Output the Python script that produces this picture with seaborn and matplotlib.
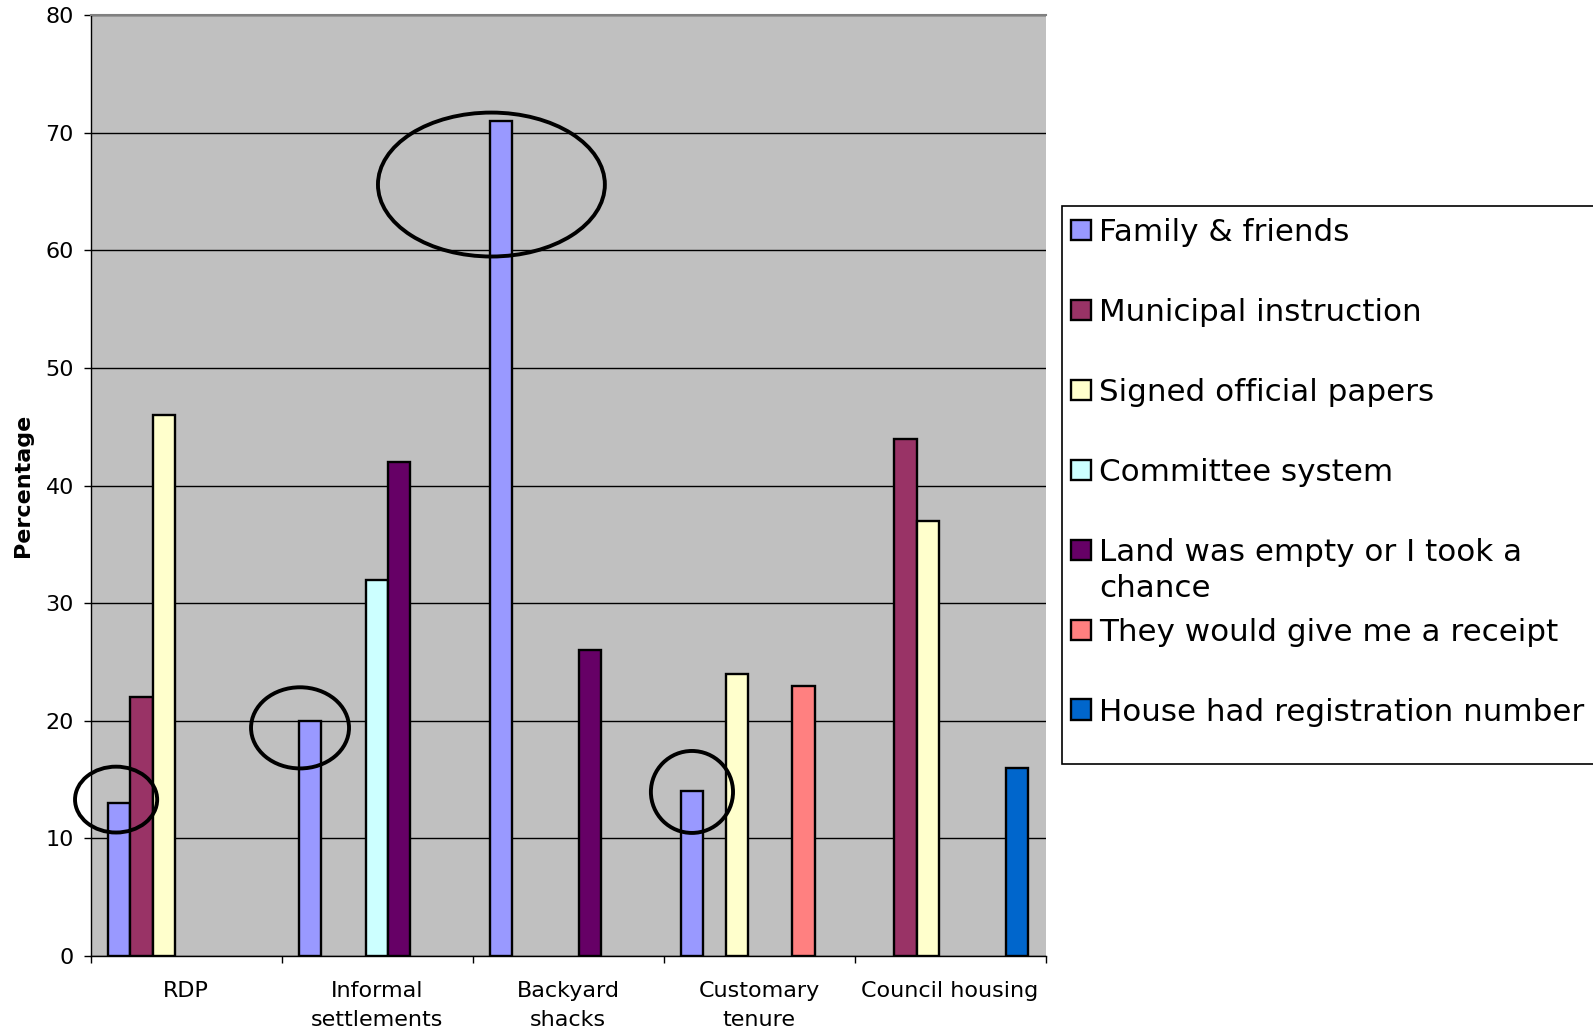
import numpy as np
import pandas as pd
import matplotlib
matplotlib.use("Agg")
import matplotlib.pyplot as plt
from matplotlib.patches import Ellipse, Rectangle, Patch
import seaborn as sns

# ---------------- data ----------------
categories = ["RDP", "Informal\nsettlements", "Backyard\nshacks",
              "Customary\ntenure", "Council housing"]
series = ["Family & friends", "Municipal instruction", "Signed official papers",
          "Committee system", "Land was empty or I took a",
          "They would give me a receipt", "House had registration number"]
family = [13, 20, 71, 14, np.nan]
municipal = [22, np.nan, np.nan, np.nan, 44]
signed = [46, np.nan, np.nan, 24, 37]
committee = [np.nan, 32, np.nan, np.nan, np.nan]
land = [np.nan, 42, 26, np.nan, np.nan]
receipt = [np.nan, np.nan, np.nan, 23, np.nan]
house = [np.nan, np.nan, np.nan, np.nan, 16]
colors = ["#9999FF", "#993366", "#FFFFCC", "#CCFFFF", "#660066", "#FF8080", "#0066CC"]
yticks = [0, 10, 20, 30, 40, 50, 60, 70, 80]

# highlighted (circled) family & friends bars: centre x, centre y, width, height
circ_x = [-0.366, 0.597, 1.599, 2.649]
circ_y = [13.3, 19.4, 65.6, 13.95]
circ_w = [0.43, 0.513, 1.188, 0.43]
circ_h = [5.6, 6.9, 12.24, 6.97]

all_vals = [family, municipal, signed, committee, land, receipt, house]
rows = []
for s, vals in zip(series, all_vals):
    for c, v in zip(categories, vals):
        if not np.isnan(v):
            rows.append({"category": c, "series": s, "value": v})
df = pd.DataFrame(rows)

# ---------------- figure ----------------
W, H = 1593, 1032
fig = plt.figure(figsize=(W / 100, H / 100), dpi=100)
fig.patch.set_facecolor("white")
ax = fig.add_axes([90.5 / W, 1 - 956 / H, (1045.5 - 90.5) / W, (956 - 15.2) / H])
ax.set_facecolor("#C0C0C0")

sns.barplot(data=df, x="category", y="value", hue="series",
            order=categories, hue_order=series, palette=colors,
            width=0.817, dodge=True, errorbar=None, edgecolor="black",
            linewidth=1.7, saturation=1, legend=False, ax=ax, zorder=3)

ax.set_xlim(-0.5, 4.5)
ax.set_ylim(0, 80)
ax.set_yticks(yticks)
ax.set_yticklabels([str(t) for t in yticks], fontsize=16)
ax.yaxis.grid(True, color="black", linewidth=1)
ax.set_axisbelow(True)

ax.set_xticks(range(len(categories)))
ax.set_xticklabels(categories, fontsize=16, linespacing=1.55)
ax.set_xticks(np.arange(-0.5, 5, 1.0), minor=True)
ax.tick_params(axis="x", which="major", length=0, pad=18)
ax.tick_params(axis="x", which="minor", length=5, width=1, color="black", direction="out")
ax.tick_params(axis="y", length=5, width=1, color="black", direction="out", pad=7)
ax.set_xlabel("")
ax.set_ylabel("Percentage", fontsize=16, fontweight="bold", labelpad=9)

for side in ["left", "bottom"]:
    ax.spines[side].set_color("black")
    ax.spines[side].set_linewidth(1)
ax.spines["top"].set_color("#808080")
ax.spines["top"].set_linewidth(1.5)
ax.spines["right"].set_visible(False)

for cx, cy, cw, ch in zip(circ_x, circ_y, circ_w, circ_h):
    ax.add_patch(Ellipse((cx, cy), cw, ch, fill=False, edgecolor="black",
                         linewidth=2.8, zorder=5, clip_on=False))

# ---------------- legend ----------------
fig.patches.append(Rectangle((1062 / W, 1 - 764 / H), (1700 - 1062) / W, (764 - 206) / H,
                             transform=fig.transFigure, facecolor="white",
                             edgecolor="black", linewidth=1.2, zorder=1))
handles = [Patch(facecolor=c, edgecolor="black", linewidth=1.7) for c in colors]
leg = fig.legend(handles, series, loc="upper left",
                 bbox_to_anchor=(1071 / W, 1 - 218 / H),
                 frameon=False, fontsize=22.3, borderpad=0, borderaxespad=0,
                 handlelength=0.65, handleheight=0.65, handletextpad=0.27,
                 labelspacing=1.645)
leg.set_zorder(4)

fig.canvas.draw()
bb = leg.get_texts()[4].get_window_extent()
fig.text(bb.x0 / W, (bb.y0 - 36.5) / H, "chance", fontsize=22.3, ha="left", va="bottom",
         zorder=4)

fig.savefig("out.png", dpi=100)
